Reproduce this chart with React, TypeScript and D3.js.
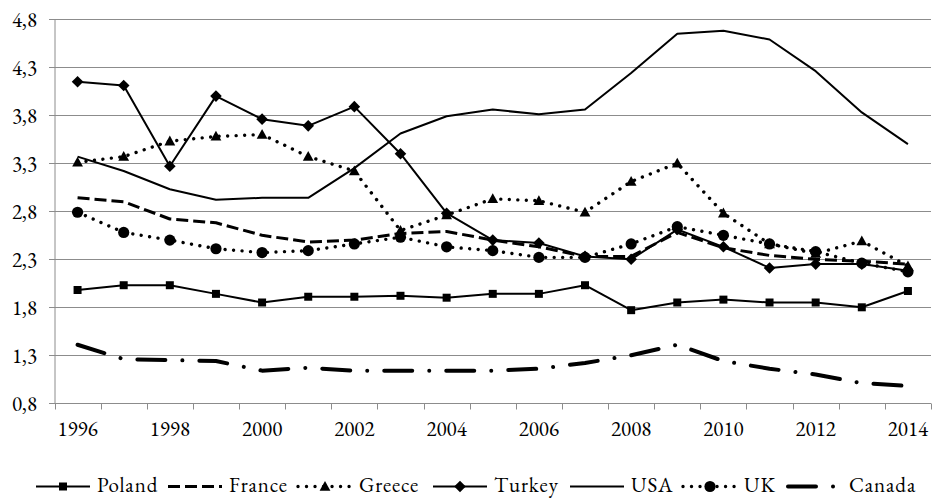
import React from "react";
import * as d3 from "d3";

// Categories and series values
const years = ["1996", "1997", "1998", "1999", "2000", "2001", "2002", "2003", "2004", "2005", "2006", "2007", "2008", "2009", "2010", "2011", "2012", "2013", "2014"];
const tickYears = ["1996", "1998", "2000", "2002", "2004", "2006", "2008", "2010", "2012", "2014"];
const yTicks = [0.8, 1.3, 1.8, 2.3, 2.8, 3.3, 3.8, 4.3, 4.8];

const poland = [1.98, 2.03, 2.03, 1.94, 1.85, 1.91, 1.91, 1.92, 1.90, 1.94, 1.94, 2.03, 1.77, 1.85, 1.88, 1.85, 1.85, 1.80, 1.97];
const france = [2.94, 2.90, 2.72, 2.68, 2.55, 2.48, 2.50, 2.57, 2.59, 2.50, 2.43, 2.33, 2.33, 2.58, 2.42, 2.34, 2.30, 2.28, 2.25];
const greece = [3.31, 3.37, 3.53, 3.58, 3.60, 3.37, 3.22, 2.60, 2.76, 2.93, 2.91, 2.79, 3.11, 3.30, 2.78, 2.46, 2.36, 2.49, 2.23];
const turkey = [4.15, 4.11, 3.27, 4.00, 3.76, 3.69, 3.89, 3.40, 2.78, 2.50, 2.47, 2.33, 2.30, 2.61, 2.43, 2.21, 2.25, 2.25, 2.18];
const usa = [3.37, 3.22, 3.03, 2.92, 2.94, 2.94, 3.25, 3.61, 3.79, 3.86, 3.81, 3.86, 4.24, 4.65, 4.68, 4.59, 4.26, 3.83, 3.50];
const uk = [2.79, 2.58, 2.50, 2.41, 2.37, 2.39, 2.46, 2.53, 2.43, 2.39, 2.32, 2.32, 2.46, 2.64, 2.55, 2.46, 2.38, 2.26, 2.17];
const canada = [1.41, 1.26, 1.25, 1.24, 1.14, 1.17, 1.14, 1.14, 1.14, 1.14, 1.16, 1.22, 1.30, 1.41, 1.24, 1.16, 1.10, 1.01, 0.98];

type Marker = "square" | "diamond" | "triangle" | "circle" | "none";
interface SeriesStyle {
  name: string;
  values: number[];
  width: number;
  dash?: string;
  cap: "butt" | "round";
  marker: Marker;
}

const series: SeriesStyle[] = [
  { name: "Poland", values: poland, width: 2, cap: "butt", marker: "square" },
  { name: "France", values: france, width: 3, dash: "12,5", cap: "butt", marker: "none" },
  { name: "Greece", values: greece, width: 3.4, dash: "0.01,8.5", cap: "round", marker: "triangle" },
  { name: "Turkey", values: turkey, width: 2, cap: "butt", marker: "diamond" },
  { name: "USA", values: usa, width: 2, cap: "butt", marker: "none" },
  { name: "UK", values: uk, width: 3.4, dash: "0.01,8.5", cap: "round", marker: "circle" },
  { name: "Canada", values: canada, width: 4, dash: "28,17,0.01,17", cap: "round", marker: "none" },
];

const W = 934;
const H = 498;
const FONT = '"EB Garamond", "Liberation Serif", serif';
const FONT_SIZE = 21;
const GRID = "#8c8c8c";

const margin = { left: 54.5, right: 931, top: 19.3, bottom: 403.3 };

// legend entry start positions (left edge of each sample line)
const legendX = [36, 168, 298, 433, 570, 683, 788];

const x = d3.scaleBand<string>().domain(years).range([margin.left, margin.right]).padding(0);
const cx = (yr: string) => (x(yr) as number) + x.bandwidth() / 2;
const y = d3.scaleLinear().domain([0.8, 4.8]).range([margin.bottom, margin.top]);
const fmt = (v: number) => d3.format(".1f")(v).replace(".", ",");
const line = d3
  .line<number>()
  .x((_, i) => cx(years[i]))
  .y((d) => y(d));

function markerPath(m: Marker): string | null {
  switch (m) {
    case "square":
      return "M-4,-4H4V4H-4Z";
    case "diamond":
      return "M0,-5.8L5.8,0L0,5.8L-5.8,0Z";
    case "triangle":
      return "M0,-5.6L5.4,4.2H-5.4Z";
    case "circle":
      return d3.symbol().type(d3.symbolCircle).size(Math.PI * 5.6 * 5.6)() as string;
    default:
      return null;
  }
}

const textStyle: React.CSSProperties = { fontFamily: FONT, fontSize: `${FONT_SIZE}px` };
const legendTextStyle: React.CSSProperties = { ...textStyle, letterSpacing: "0.9px" };

export default function App() {
  const snap = (v: number) => Math.round(v) + 0.5;
  const axisY = snap(margin.bottom);
  const bounds = years.map((yr) => x(yr) as number).concat([margin.right]);

  const sampleLen = 54;
  const textGap = 7;
  const legY = 486.5;

  return (
    <svg width={W} height={H} style={{ position: "absolute", left: 0, top: 0, display: "block" }}>
      <rect width={W} height={H} fill="#fff" />

      {/* gridlines */}
      {yTicks.slice(1).map((t) => (
        <line key={t} x1={margin.left} x2={margin.right} y1={snap(y(t))} y2={snap(y(t))} stroke={GRID} />
      ))}

      {/* y axis */}
      <line x1={55} x2={55} y1={margin.top} y2={axisY} stroke={GRID} />
      {yTicks.map((t) => (
        <g key={t} transform={`translate(0,${snap(y(t))})`}>
          <line x1={49} x2={55} stroke={GRID} />
          <text x={37} dy="0.34em" textAnchor="end" style={textStyle} fill="#000">
            {fmt(t)}
          </text>
        </g>
      ))}

      {/* x axis */}
      <line x1={margin.left} x2={margin.right} y1={axisY} y2={axisY} stroke={GRID} />
      {bounds.map((b, i) => (
        <line key={i} x1={snap(b)} x2={snap(b)} y1={axisY} y2={axisY + 6} stroke={GRID} />
      ))}
      {tickYears.map((t) => (
        <text key={t} x={cx(t)} y={axisY + 32} textAnchor="middle" style={textStyle} fill="#000">
          {t}
        </text>
      ))}

      {/* series */}
      {series.map((s) => {
        const mp = markerPath(s.marker);
        return (
          <g key={s.name}>
            <path
              d={line(s.values) ?? ""}
              fill="none"
              stroke="#000"
              strokeWidth={s.width}
              strokeLinejoin="round"
              strokeLinecap={s.cap}
              strokeDasharray={s.dash}
            />
            {mp &&
              s.values.map((v, i) => (
                <path key={i} d={mp} transform={`translate(${cx(years[i])},${y(v)})`} fill="#000" />
              ))}
          </g>
        );
      })}

      {/* legend */}
      {series.map((s, i) => {
        const mp = markerPath(s.marker);
        return (
          <g key={s.name} transform={`translate(${legendX[i]},${legY})`}>
            <path
              d={`M0,0H${sampleLen}`}
              stroke="#000"
              strokeWidth={s.width}
              strokeLinecap={s.cap}
              strokeDasharray={s.dash}
            />
            {mp && <path d={mp} transform={`translate(${sampleLen / 2},0)`} fill="#000" />}
            <text x={sampleLen + textGap} y={5.5} style={legendTextStyle} fill="#000">
              {s.name}
            </text>
          </g>
        );
      })}
    </svg>
  );
}
